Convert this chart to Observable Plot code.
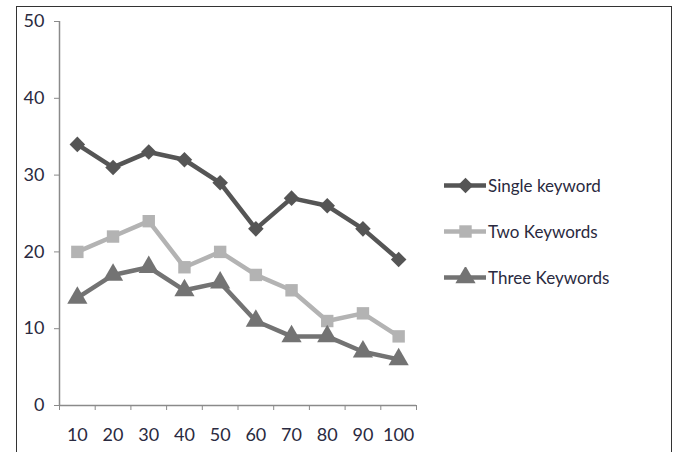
<!DOCTYPE html>
<html><head><meta charset="utf-8">
<script src="https://cdn.jsdelivr.net/npm/d3@7"></script>
<script src="https://cdn.jsdelivr.net/npm/@observablehq/plot@0.6"></script>
<style>
body{margin:0;background:#fff;}
#wrap{position:relative;width:680px;height:452px;overflow:hidden;font-family:Lato,sans-serif;}
#frame{position:absolute;left:16px;top:6px;width:656px;height:470px;border:1.5px solid #333;box-sizing:border-box;}
#legend{position:absolute;left:444px;top:162px;}
.item{display:flex;align-items:center;height:46px;font-size:17px;color:#2a2a40;}
.item svg{margin-right:2px;}
</style></head>
<body><div id="wrap"><div id="frame"></div><div id="chart"></div><div id="legend"></div></div>
<script>
const xs = [10,20,30,40,50,60,70,80,90,100];
const seriesNames = ["Single keyword","Two Keywords","Three Keywords"];
const single = [34,31,33,32,29,23,27,26,23,19];
const two = [20,22,24,18,20,17,15,11,12,9];
const three = [14,17,18,15,16,11,9,9,7,6];
const yTicks = [0,10,20,30,40,50];
const colors = ["#555555","#b3b3b3","#737373"];
const symbols = ["diamond2","square","triangle"];
const sizes = [7,7,7.5];

const allVals = [single,two,three];
const data = [];
seriesNames.forEach((s,i)=>xs.forEach((x,j)=>data.push({series:s,x,y:allVals[i][j]})));
const step = xs[1]-xs[0];
const bounds = [...xs.map(x=>x-step/2), xs[xs.length-1]+step/2];

const marks = [
  Plot.ruleX([bounds[0]],{stroke:"#8a8a8a",strokeWidth:1.5}),
  Plot.ruleY([0],{stroke:"#8a8a8a",strokeWidth:1.5}),
  Plot.axisY({ticks:yTicks,tickSize:5,tickPadding:10,stroke:"#8a8a8a",fontSize:18,color:"#2a2a40",label:null}),
  Plot.axisX({ticks:bounds,tickSize:5,tickFormat:()=>"",stroke:"#8a8a8a",label:null}),
  Plot.axisX({ticks:xs,tickSize:0,tickPadding:23,fontSize:18,color:"#2a2a40",label:null})
];
seriesNames.forEach((s,i)=>{
  const d = data.filter(r=>r.series===s);
  marks.push(Plot.line(d,{x:"x",y:"y",stroke:colors[i],strokeWidth:4.5}));
  marks.push(Plot.dot(d,{x:"x",y:"y",fill:colors[i],symbol:()=>symbols[i],r:sizes[i],stroke:"none"}));
});
const chart = Plot.plot({
  width:680,height:452,
  marginLeft:59,marginRight:264,marginTop:21,marginBottom:47,
  x:{domain:[bounds[0],bounds[bounds.length-1]],label:null},
  y:{domain:[0,50],label:null},
  style:{fontFamily:"Lato, sans-serif",background:"transparent"},
  marks
});
document.getElementById("chart").appendChild(chart);

const leg = document.getElementById("legend");
seriesNames.forEach((s,i)=>{
  const div = document.createElement("div"); div.className="item";
  const sw = Plot.plot({width:42,height:20,margin:0,axis:null,
    x:{domain:[0,2]},y:{domain:[0,1]},
    marks:[Plot.lineY([0.5,0.5,0.5],{x:[0,1,2],y:[0.5,0.5,0.5],stroke:colors[i],strokeWidth:4.5}),
      Plot.dot([1],{x:d=>d,y:()=>0.5,fill:colors[i],symbol:()=>symbols[i],r:sizes[i]})]});
  div.appendChild(sw);
  const t=document.createElement("span"); t.textContent=s; div.appendChild(t);
  leg.appendChild(div);
});
</script></body></html>
